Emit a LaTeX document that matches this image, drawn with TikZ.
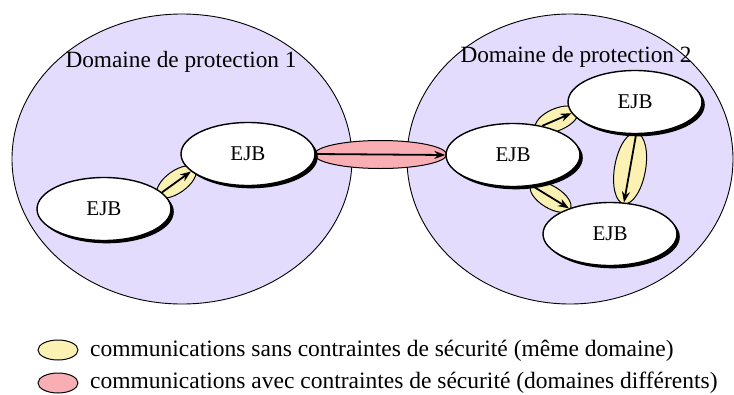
\documentclass[tikz,border=0pt]{standalone}
\usepackage{fontspec}
\setmainfont{Liberation Serif}
\usetikzlibrary{shapes.geometric,shadows,arrows.meta}
\pgfdeclarelayer{domainlayer}
\pgfdeclarelayer{lenslayer}
\pgfsetlayers{domainlayer,lenslayer,main}
\definecolor{domfill}{HTML}{E3DCFC}
\definecolor{lensyellow}{HTML}{FBF1B3}
\definecolor{lenspink}{HTML}{F9AEB3}
\begin{document}
\begin{tikzpicture}[x=1pt,y=-1pt,
  domainbox/.style={ellipse, draw, line width=0.9pt, fill=domfill, inner sep=0pt},
  domlabel/.style={font=\fontsize{23.3}{24}\selectfont, inner sep=0pt},
  ejb/.style={ellipse, draw, line width=1.4pt, fill=white, minimum width=134pt, minimum height=63pt, inner sep=0pt,
    font=\fontsize{21}{21}\selectfont,
    drop shadow={shadow xshift=2.8pt, shadow yshift=-2.8pt, fill=black, opacity=1}},
  ylens/.style={ellipse, draw, line width=1pt, fill=lensyellow, inner sep=0pt},
  plens/.style={ellipse, draw, line width=1pt, fill=lenspink, inner sep=0pt},
  link/.style={line width=1.8pt, -{Stealth[length=11pt,width=8pt]}},
  legtext/.style={anchor=west, font=\fontsize{23.5}{24}\selectfont, inner sep=0pt}]
\useasboundingbox (0,0) rectangle (734,394);
\clip (0,0) rectangle (734,394);
% domains
\begin{pgfonlayer}{domainlayer}
\node[domainbox, minimum width=340pt, minimum height=290pt] (d1) at (182,159) {};
\node[domainbox, minimum width=326pt, minimum height=290pt] (d2) at (570,159) {};
\end{pgfonlayer}
\node[domlabel] (l1) at (181,62) {Domaine de protection 1};
\node[domlabel] (l2) at (576,57) {Domaine de protection 2};
% EJB nodes
\node[ejb] (a) at (104,209) {EJB};
\node[ejb] (b) at (248,154) {EJB};
\node[ejb] (m) at (513,155) {EJB};
\node[ejb] (t) at (635,102) {EJB};
\node[ejb] (u) at (610,234) {EJB};
% lenses
\begin{pgfonlayer}{lenslayer}
\path (a.16) -- (b.197) node[ylens, midway, sloped, minimum width=46pt, minimum height=22pt] (ya) {};
\path (b.0) -- (m.180) node[plens, midway, minimum width=132pt, minimum height=28pt] (pb) {};
\path (m.45) -- (t.190) node[ylens, midway, sloped, minimum width=46pt, minimum height=22pt] (ym) {};
\path (m.-58) -- (u.148) node[ylens, midway, sloped, minimum width=46pt, minimum height=22pt] (yu) {};
\path (t.-88) -- (u.66) node[ylens, midway, sloped, minimum width=72pt, minimum height=31pt] (yt) {};
\end{pgfonlayer}
% arrows
\draw[link] (a.16) -- (b.197);
\draw[link] (b.0) -- (m.180);
\draw[link] (m.45) -- (t.190);
\draw[link] (m.-58) -- (u.148);
\draw[link] (t.-88) -- (u.66);
% legend
\node[ylens, minimum width=40pt, minimum height=20pt] (ky) at (58,350) {};
\node[plens, minimum width=40pt, minimum height=20pt] (kp) at (58,383) {};
\node[legtext] (ty) at (90,351) {communications sans contraintes de sécurité (même domaine)};
\node[legtext] (tp) at (90,383) {communications avec contraintes de sécurité (domaines différents)};
\end{tikzpicture}
\end{document}
